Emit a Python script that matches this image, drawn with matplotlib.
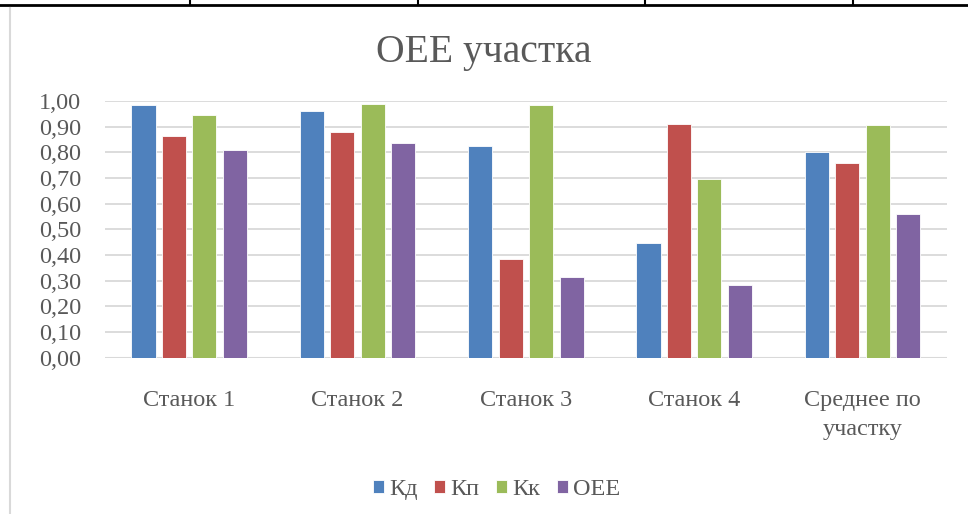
import matplotlib.pyplot as plt
import numpy as np
from matplotlib.lines import Line2D

plt.rcParams['font.family'] = ['Liberation Serif', 'DejaVu Serif']

categories = ['Станок 1', 'Станок 2', 'Станок 3', 'Станок 4', 'Среднее по\nучастку']
series = ['Кд', 'Кп', 'Кк', 'ОЕЕ']
kd = [0.985, 0.96, 0.825, 0.445, 0.803]
kp = [0.865, 0.88, 0.385, 0.912, 0.76]
kk = [0.945, 0.99, 0.985, 0.695, 0.905]
oee = [0.81, 0.835, 0.315, 0.285, 0.56]
yticks = [0.0, 0.1, 0.2, 0.3, 0.4, 0.5, 0.6, 0.7, 0.8, 0.9, 1.0]

colors = ['#4F81BD', '#C0504D', '#9BBB59', '#8064A2']
txt = '#595959'

fig = plt.figure(figsize=(9.68, 5.14), dpi=100)
ax = fig.add_axes([0.1085, 0.304, 0.8695, 0.4995])

x = np.arange(len(categories))
w = 0.143
step = 0.181
for i, vals in enumerate([kd, kp, kk, oee]):
    ax.bar(x + (i - 1.5) * step, vals, width=w, color=colors[i],
           edgecolor='white', linewidth=0.6, label=series[i], zorder=3)

ax.set_xlim(-0.5, len(categories) - 0.5)
ax.set_ylim(0, 1.0)
ax.set_yticks(yticks)
ax.set_yticklabels([f'{v:.2f}'.replace('.', ',') for v in yticks])
ax.set_xticks(x)
ax.set_xticklabels(categories, linespacing=1.5)
ax.tick_params(axis='y', length=0, pad=17, labelsize=17.5, labelcolor=txt)
ax.tick_params(axis='x', length=0, pad=23, labelsize=17.5, labelcolor=txt)
for lbl in ax.get_xticklabels():
    lbl.set_verticalalignment('top')
ax.grid(axis='y', color='#D9D9D9', linewidth=1.3, zorder=0)
for s in ax.spines.values():
    s.set_visible(False)
ax.axhline(0, color='#D9D9D9', linewidth=1.5, zorder=2)

fig.text(0.5, 0.897, 'ОЕЕ участка', ha='center', va='center', fontsize=28.5, color=txt)

fig.legend(loc='center', bbox_to_anchor=(0.513, 0.047), ncol=4, frameon=False,
           fontsize=17.5, handlelength=0.45, handleheight=0.45, handletextpad=0.2,
           columnspacing=0.7, labelcolor=txt)

# document table borders around the chart
fig.add_artist(Line2D([0, 1], [1 - 4.5 / 514] * 2, color='black', linewidth=2))
for xp in [190, 418, 645, 853]:
    fig.add_artist(Line2D([xp / 968] * 2, [1, 1 - 4.5 / 514], color='black', linewidth=1.5))
fig.add_artist(Line2D([10 / 968] * 2, [0, 1 - 8 / 514], color='#D9D9D9', linewidth=1.5))

fig.savefig('out.png', dpi=100)
